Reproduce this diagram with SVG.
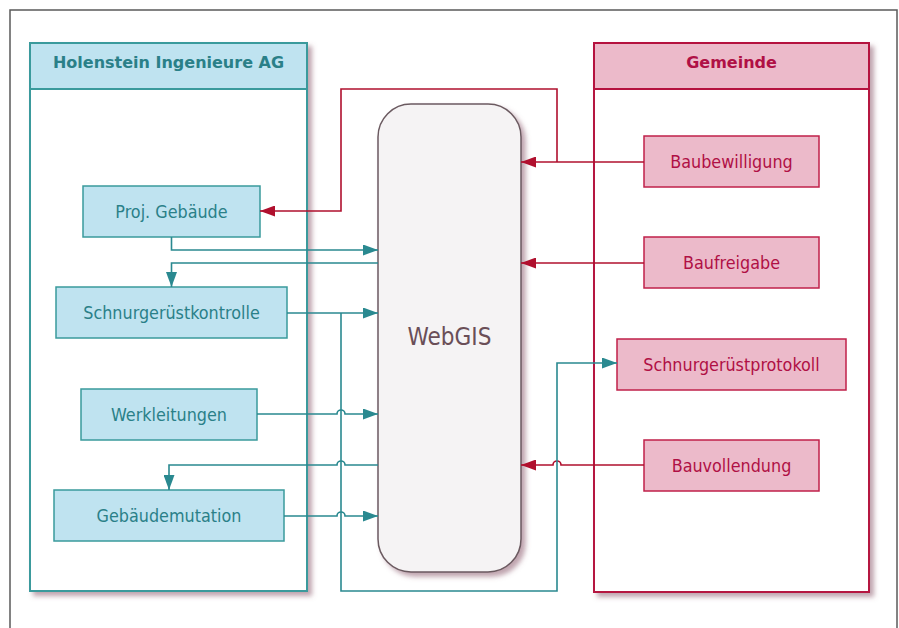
<svg xmlns="http://www.w3.org/2000/svg" width="899" height="628" viewBox="0 0 899 628">
<defs>
<filter id="sh" x="-10%" y="-10%" width="130%" height="130%">
<feDropShadow dx="4" dy="4" stdDeviation="2.5" flood-color="#8a5a6c" flood-opacity="0.55"/>
</filter>
<marker id="at" markerUnits="userSpaceOnUse" markerWidth="15" markerHeight="11" refX="15" refY="5.5" orient="auto">
<path d="M0,0 L15,5.5 L0,11 z" fill="#2a8990"/>
</marker>
<marker id="ar" markerUnits="userSpaceOnUse" markerWidth="15" markerHeight="11" refX="15" refY="5.5" orient="auto">
<path d="M0,0 L15,5.5 L0,11 z" fill="#b0102e"/>
</marker>
</defs>
<style>
.frame{fill:#fff;stroke:#5a5a5a;stroke-width:1.5}
.cb{fill:#fff;stroke:#3a9a9c;stroke-width:2}
.hb{fill:#bfe3f0;stroke:#3a9a9c;stroke-width:2}
.cr{fill:#fff;stroke:#b5123f;stroke-width:2}
.hr{fill:#ecbaca;stroke:#b5123f;stroke-width:2}
.nb{fill:#bfe3f0;stroke:#3a9a9c;stroke-width:1.5}
.nr{fill:#ecbaca;stroke:#c0204a;stroke-width:1.5}
.ht{font-family:"DejaVu Sans",sans-serif;font-weight:bold;font-size:16px;text-anchor:middle}
.t{font-family:"DejaVu Sans Condensed","DejaVu Sans",sans-serif;font-size:17.8px;text-anchor:middle}
.tb{fill:#2a8088}
.tr{fill:#b01045}
.lt{fill:none;stroke:#2a8990;stroke-width:1.6}
.lr{fill:none;stroke:#b0102e;stroke-width:1.6}
</style>
<rect x="10" y="10" width="887" height="640" class="frame"/>
<g id="holenstein">
<rect x="30" y="43" width="277" height="548" class="cb" filter="url(#sh)"/>
<rect x="30" y="43" width="277" height="46" class="hb"/>
<text x="168.5" y="68" class="ht tb">Holenstein Ingenieure AG</text>
</g>
<g id="gemeinde">
<rect x="594" y="43" width="275" height="549" class="cr" filter="url(#sh)"/>
<rect x="594" y="43" width="275" height="46" class="hr"/>
<text x="731.5" y="68" class="ht tr">Gemeinde</text>
</g>
<g id="webgis">
<rect x="378" y="104" width="143" height="468" rx="33" ry="33" fill="#f5f3f4" stroke="#6b5a60" stroke-width="1.5" filter="url(#sh)"/>
<text x="449.5" y="345" style="font-family:'DejaVu Sans Condensed','DejaVu Sans',sans-serif;font-size:24px;text-anchor:middle;fill:#6a4e57">WebGIS</text>
</g>
<g id="proj-gebaeude">
<rect x="83" y="186" width="177" height="51" class="nb"/>
<text x="171.5" y="217.5" class="t tb">Proj. Gebäude</text>
</g>
<g id="schnurgeruestkontrolle">
<rect x="56" y="287" width="231" height="51" class="nb"/>
<text x="171.5" y="318.5" class="t tb">Schnurgerüstkontrolle</text>
</g>
<g id="werkleitungen">
<rect x="81" y="389" width="176" height="51" class="nb"/>
<text x="169" y="420.5" class="t tb">Werkleitungen</text>
</g>
<g id="gebaeudemutation">
<rect x="54" y="490" width="230" height="51" class="nb"/>
<text x="169" y="521.5" class="t tb">Gebäudemutation</text>
</g>
<g id="baubewilligung">
<rect x="644" y="136" width="175" height="51" class="nr"/>
<text x="731.5" y="167.5" class="t tr">Baubewilligung</text>
</g>
<g id="baufreigabe">
<rect x="644" y="237" width="175" height="51" class="nr"/>
<text x="731.5" y="268.5" class="t tr">Baufreigabe</text>
</g>
<g id="schnurgeruestprotokoll">
<rect x="617" y="339" width="229" height="51" class="nr"/>
<text x="731.5" y="370.5" class="t tr">Schnurgerüstprotokoll</text>
</g>
<g id="bauvollendung">
<rect x="644" y="440" width="175" height="51" class="nr"/>
<text x="731.5" y="471.5" class="t tr">Bauvollendung</text>
</g>
<g id="connectors">
<path d="M644,162 H521" class="lr" marker-end="url(#ar)"/>
<path d="M557,162 V89 H341 V211 H260" class="lr" marker-end="url(#ar)"/>
<path d="M644,263 H521" class="lr" marker-end="url(#ar)"/>
<path d="M644,465 H561 a4,4 0 0,0 -8,0 H521" class="lr" marker-end="url(#ar)"/>
<path d="M171.5,237 V250 H378" class="lt" marker-end="url(#at)"/>
<path d="M378,263 H171.5 V287" class="lt" marker-end="url(#at)"/>
<path d="M287,313 H378" class="lt" marker-end="url(#at)"/>
<path d="M341,313 V591 H557 V363 H617" class="lt" marker-end="url(#at)"/>
<path d="M257,414 H337 a4,4 0 0,1 8,0 H378" class="lt" marker-end="url(#at)"/>
<path d="M378,465 H345 a4,4 0 0,0 -8,0 H169 V490" class="lt" marker-end="url(#at)"/>
<path d="M284,516 H337 a4,4 0 0,1 8,0 H378" class="lt" marker-end="url(#at)"/>
</g>
</svg>
